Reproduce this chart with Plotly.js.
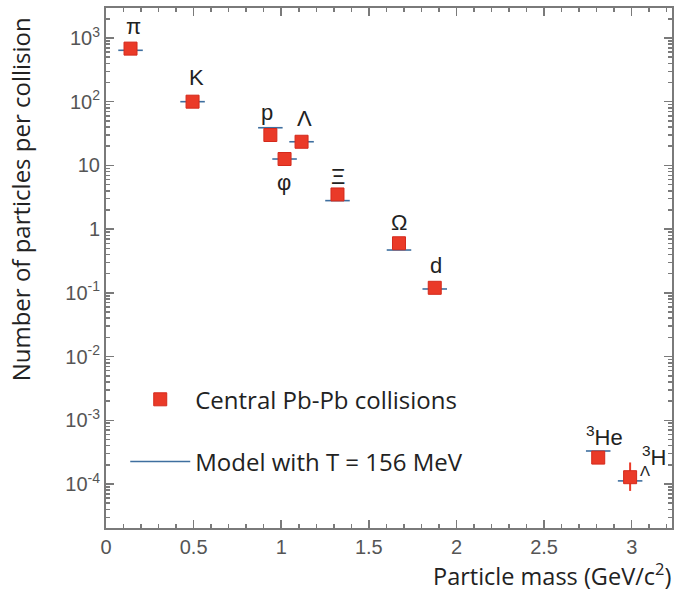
<!DOCTYPE html>
<html>
<head>
<meta charset="utf-8">
<script src="https://cdn.plot.ly/plotly-3.0.1.min.js"></script>
<style>html,body{margin:0;padding:0;background:#fff;}#chart{width:683px;height:592px;}</style>
</head>
<body>
<div id="chart"></div>
<script>
// ---- data ----
var particles = ["π", "K", "p", "φ", "Λ", "Ξ", "Ω", "d", "<sup>3</sup>He", "<sup>3</sup>H"];
var masses    = [0.140, 0.494, 0.938, 1.019, 1.116, 1.321, 1.672, 1.876, 2.809, 2.991];
var measured  = [680, 100, 30, 12.6, 23.5, 3.5, 0.60, 0.12, 0.00026, 0.000128];
var measErrUp = [0, 0, 0, 0, 0, 0, 0, 0, 0.00003, 0.00009];
var measErrDn = [0, 0, 0, 0, 0, 0, 0, 0, 0.00003, 0.00005];
var model     = [640, 100, 39, 12.6, 23.5, 2.8, 0.47, 0.115, 0.00033, 0.000112];
var yTickVals = [1e-4, 1e-3, 1e-2, 1e-1, 1, 10, 100, 1000];
var yTickText = ["10<sup>-4</sup>", "10<sup>-3</sup>", "10<sup>-2</sup>", "10<sup>-1</sup>", "1", "10", "10<sup>2</sup>", "10<sup>3</sup>"];
var xTickVals = [0, 0.5, 1, 1.5, 2, 2.5, 3];
var legendNames = ["Central Pb-Pb collisions", "Model with T = 156 MeV"];

// ---- styles (label offsets in pixels) ----
var labelShiftX = [3, 4, -3, -1, 3, 1, 0, 1, 6, 24];
var labelShiftY = [22, 24, 23, -23, 23, 18, 21, 22, 22, 21];
var modelHalfWidth = 0.07;

var mx = [], my = [];
for (var i = 0; i < masses.length; i++) {
  mx.push(masses[i] - modelHalfWidth, masses[i] + modelHalfWidth, null);
  my.push(model[i], model[i], null);
}

var traces = [
  {
    type: "scatter", mode: "lines", x: mx, y: my,
    name: legendNames[1], legendgroup: "b", legendrank: 2,
    line: {color: "#3f6f9f", width: 1.6},
    hoverinfo: "skip"
  },
  {
    type: "scatter", mode: "markers", x: masses, y: measured,
    name: legendNames[0], legendgroup: "a", legendrank: 1,
    marker: {symbol: "square", size: 13, color: "#ea3a28", line: {color: "#d42a1c", width: 1}},
    error_y: {type: "data", symmetric: false, array: measErrUp, arrayminus: measErrDn,
              color: "#ea3a28", thickness: 2, width: 0}
  }
];

var annotations = [];
var labelFont = {family: "Liberation Sans, Arial, sans-serif", size: 22, color: "#222"};
for (var j = 0; j < particles.length; j++) {
  annotations.push({
    x: masses[j], y: Math.log10(measured[j]), xref: "x", yref: "y",
    text: particles[j], showarrow: false, font: labelFont,
    xshift: labelShiftX[j], yshift: labelShiftY[j]
  });
}
// hypertriton subscript Λ
annotations.push({
  x: masses[9], y: Math.log10(measured[9]), xref: "x", yref: "y",
  text: "Λ", showarrow: false, font: {family: labelFont.family, size: 15, color: "#222"},
  xshift: 15, yshift: 7
});
// axis titles
annotations.push({
  xref: "paper", yref: "paper", x: 1.002, y: -0.090, xanchor: "right", yanchor: "middle",
  text: "Particle mass (GeV/c<sup>2</sup>)", showarrow: false,
  font: {family: "Open Sans, sans-serif", size: 23.5, color: "#222"}
});
annotations.push({
  xref: "paper", yref: "paper", x: -0.152, y: 0.632, xanchor: "center", yanchor: "middle",
  text: "Number of particles per collision", showarrow: false, textangle: -90,
  font: {family: "Open Sans, sans-serif", size: 24, color: "#222"}
});

var axisCommon = {
  showline: true, linecolor: "#7a7a7a", linewidth: 2, mirror: "allticks",
  ticks: "inside", ticklen: 8, tickwidth: 1.5, tickcolor: "#7a7a7a",
  showgrid: false, zeroline: false,
  tickfont: {family: "Liberation Sans, Arial, sans-serif", size: 20, color: "#555"}
};

var layout = {
  width: 683, height: 592,
  margin: {l: 106, r: 11, t: 8, b: 64},
  paper_bgcolor: "#fff", plot_bgcolor: "#fff",
  showlegend: true,
  legend: {
    x: 0.034, y: 0.29, xanchor: "left", yanchor: "top",
    traceorder: "grouped", tracegroupgap: 28, itemwidth: 60,
    bgcolor: "rgba(0,0,0,0)",
    font: {family: "Open Sans, sans-serif", size: 24, color: "#222"}
  },
  xaxis: Object.assign({}, axisCommon, {
    range: [0, 3.23], tickmode: "array", tickvals: xTickVals,
    ticktext: xTickVals.map(String),
    minor: {ticks: "inside", ticklen: 4, tickcolor: "#7a7a7a", dtick: 0.1, tick0: 0, showgrid: false}
  }),
  yaxis: Object.assign({}, axisCommon, {
    type: "log", range: [-4.69, 3.47], tickmode: "array",
    tickvals: yTickVals, ticktext: yTickText,
    minor: {ticks: "inside", ticklen: 4, tickcolor: "#7a7a7a", dtick: "D1", showgrid: false}
  }),
  annotations: annotations
};

Plotly.newPlot("chart", traces, layout, {displayModeBar: false, staticPlot: true});
</script>
</body>
</html>
